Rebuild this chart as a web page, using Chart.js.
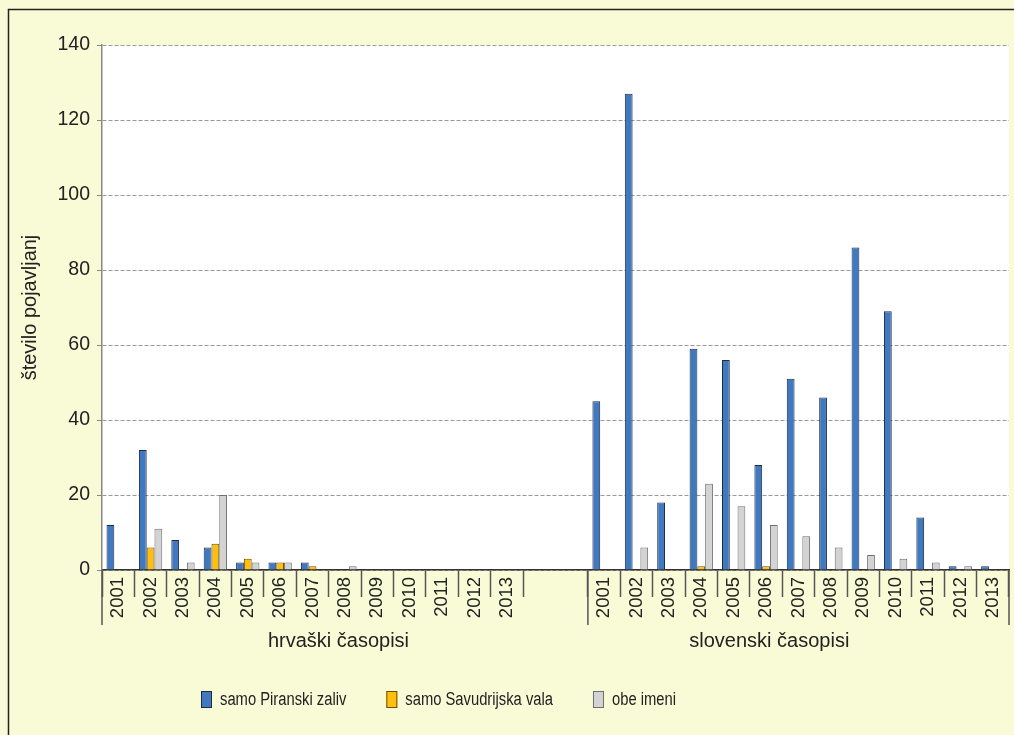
<!DOCTYPE html>
<html>
<head>
<meta charset="utf-8">
<script src="https://cdn.jsdelivr.net/npm/chart.js@4.4.0/dist/chart.umd.min.js"></script>
<style>
  html, body { margin: 0; padding: 0; background: #F9FBD7; overflow: hidden; }
  #wrap { width: 1014px; height: 735px; }
  canvas { display: block; }
</style>
</head>
<body>
<div id="wrap"><canvas id="chart" width="1014" height="735"></canvas></div>
<script>
// leta za oba bloka
const years = ['2001', '2002', '2003', '2004', '2005', '2006', '2007',
               '2008', '2009', '2010', '2011', '2012', '2013'];
const groupNames = ['hrvaški časopisi', 'slovenski časopisi'];
const seriesNames = ['samo Piranski zaliv', 'samo Savudrijska vala', 'obe imeni'];

// hrvaški časopisi
const hrPiran   = [12, 32, 8, 6, 2, 2, 2, 0, 0, 0, 0, 0, 0];
const hrSavud   = [0, 6, 0, 7, 3, 2, 1, 0, 0, 0, 0, 0, 0];
const hrObe     = [0, 11, 2, 20, 2, 2, 0, 1, 0, 0, 0, 0, 0];

// slovenski časopisi
const slPiran   = [45, 127, 18, 59, 56, 28, 51, 46, 86, 69, 14, 1, 1];
const slSavud   = [0, 0, 0, 1, 0, 1, 0, 0, 0, 0, 0, 0, 0];
const slObe     = [0, 6, 0, 23, 17, 12, 9, 6, 4, 3, 2, 1, 0];

const yTicks = [0, 20, 40, 60, 80, 100, 120, 140];

// dva prazna stolpca med skupinama
const gap = ['', ''];
const labels = years.concat(gap, years);
function joinGroups(hr, sl) {
    return hr.concat([null, null], sl);
}

const bg = '#F9FBD7';
const fontMain = "'Liberation Sans', Arial, sans-serif";

// ozadje, dolge crte, imena skupin, legenda, okvir
const decor = {
    id: 'decor',
    beforeDraw(chart) {
        const { ctx, chartArea: a } = chart;
        ctx.save();
        ctx.fillStyle = bg;
        ctx.fillRect(0, 0, chart.width, chart.height);
        ctx.fillStyle = '#ffffff';
        ctx.fillRect(a.left, a.top, a.right - a.left, a.bottom - a.top);
        ctx.restore();
    },
    afterDraw(chart) {
        const { ctx, chartArea: a } = chart;
        const x = chart.scales.x;
        const step = x.getPixelForValue(1) - x.getPixelForValue(0);
        ctx.save();

        // dolge locilne crte skupin
        ctx.strokeStyle = '#555';
        ctx.lineWidth = 1.5;
        [0, 15, 28].forEach(i => {
            const px = x.getPixelForValue(i) - step / 2;
            ctx.beginPath();
            ctx.moveTo(px, a.bottom);
            ctx.lineTo(px, a.bottom + 55);
            ctx.stroke();
        });

        // imena skupin
        ctx.fillStyle = '#222';
        ctx.font = '20px ' + fontMain;
        ctx.textAlign = 'center';
        ctx.textBaseline = 'middle';
        ctx.fillText(groupNames[0], x.getPixelForValue(6.8), a.bottom + 71);
        ctx.fillText(groupNames[1], x.getPixelForValue(20.1), a.bottom + 71);

        // legenda (ozka pisava - tekst stisnjen vodoravno)
        const squeeze = 0.82;
        ctx.font = '18px ' + fontMain;
        ctx.textAlign = 'left';
        let lx = 201;
        const ly = 691;
        chart.data.datasets.forEach(ds => {
            ctx.fillStyle = ds.backgroundColor;
            ctx.fillRect(lx, ly, 11, 17);
            ctx.strokeStyle = ds.borderColor;
            ctx.lineWidth = 1;
            ctx.strokeRect(lx + 0.5, ly + 0.5, 10, 16);
            ctx.fillStyle = '#222';
            ctx.save();
            ctx.translate(lx + 19, ly + 9);
            ctx.scale(squeeze, 1);
            ctx.fillText(ds.label, 0, 0);
            ctx.restore();
            lx += 19 + ctx.measureText(ds.label).width * squeeze + 40;
        });

        // okvir (zgoraj in levo)
        ctx.strokeStyle = '#222';
        ctx.lineWidth = 1.5;
        ctx.beginPath();
        ctx.moveTo(8.5, chart.height);
        ctx.lineTo(8.5, 9.5);
        ctx.lineTo(chart.width, 9.5);
        ctx.stroke();
        ctx.restore();
    }
};

const ctx = document.getElementById('chart').getContext('2d');
const chart = new Chart(ctx, {
    type: 'bar',
    data: {
        labels: labels,
        datasets: [{
            label: seriesNames[0],
            data: joinGroups(hrPiran, slPiran),
            backgroundColor: '#4079C0',
            borderColor: '#1E2C44',
            borderWidth: 1
        }, {
            label: seriesNames[1],
            data: joinGroups(hrSavud, slSavud),
            backgroundColor: '#FFBF12',
            borderColor: '#6B5000',
            borderWidth: 1
        }, {
            label: seriesNames[2],
            data: joinGroups(hrObe, slObe),
            backgroundColor: '#D3D3D3',
            borderColor: '#6E6E6E',
            borderWidth: 1
        }]
    },
    options: {
        responsive: false,
        animation: false,
        layout: { padding: { top: 45, right: 5, bottom: 84, left: 0 } },
        categoryPercentage: 0.72,
        barPercentage: 1.0,
        plugins: {
            legend: { display: false },
            tooltip: { enabled: false }
        },
        scales: {
            x: {
                grid: {
                    offset: true,
                    drawOnChartArea: false,
                    tickLength: 27,
                    tickWidth: 1.5,
                    tickColor: ctx => (ctx.index === 14 ? 'rgba(0,0,0,0)' : '#555')
                },
                border: { color: '#333', width: 1.5 },
                ticks: {
                    autoSkip: false,
                    minRotation: 90,
                    maxRotation: 90,
                    padding: -20,
                    color: '#222',
                    font: { family: fontMain, size: 18.5 }
                },
                afterFit(scale) { scale.height = 81; }
            },
            y: {
                min: 0,
                max: 140,
                afterBuildTicks(scale) {
                    scale.ticks = yTicks.map(v => ({ value: v }));
                },
                grid: {
                    color: '#9a9a9a',
                    lineWidth: 1,
                    tickLength: 5,
                    tickColor: '#888',
                    tickBorderDash: []
                },
                border: { color: '#888', width: 1.5, dash: [4, 2] },
                ticks: {
                    padding: 7,
                    color: '#222',
                    font: { family: fontMain, size: 19.5 }
                },
                title: {
                    display: true,
                    text: 'število pojavljanj',
                    color: '#222',
                    font: { family: fontMain, size: 20 },
                    padding: { top: 18, bottom: 0 }
                },
                afterFit(scale) { scale.width = 102; }
            }
        }
    },
    plugins: [decor]
});
</script>
</body>
</html>
